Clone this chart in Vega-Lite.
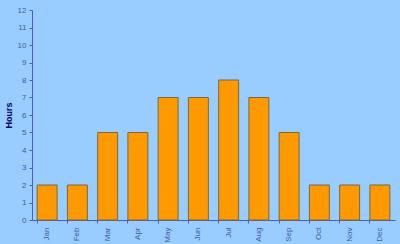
{
  "$schema": "https://vega.github.io/schema/vega-lite/v6.json",
  "width": 363,
  "height": 210,
  "autosize": {"type": "none"},
  "padding": {"left": 32, "top": 10, "right": 5, "bottom": 24},
  "background": "#99ccff",
  "config": {
    "view": {"stroke": null},
    "axis": {"grid": false, "domainColor": "#4a5cd0", "tickColor": "#4a5cd0", "labelColor": "#4658b0", "labelFont": "Liberation Sans", "labelFontSize": 8, "tickSize": 3, "labelOverlap": false}
  },
  "data": {
    "values": [
      {"month": "Jan", "hours": 2},
      {"month": "Feb", "hours": 2},
      {"month": "Mar", "hours": 5},
      {"month": "Apr", "hours": 5},
      {"month": "May", "hours": 7},
      {"month": "Jun", "hours": 7},
      {"month": "Jul", "hours": 8},
      {"month": "Aug", "hours": 7},
      {"month": "Sep", "hours": 5},
      {"month": "Oct", "hours": 2},
      {"month": "Nov", "hours": 2},
      {"month": "Dec", "hours": 2}
    ]
  },
  "mark": {"type": "bar", "color": "#ff9900", "stroke": "#7a6a3a", "strokeWidth": 1},
  "encoding": {
    "x": {
      "field": "month", "type": "nominal", "sort": null,
      "scale": {"paddingInner": 0.34, "paddingOuter": 0.17},
      "axis": {"title": null, "labelAngle": -90, "bandPosition": 0, "labelAlign": "right", "labelBaseline": "middle", "labelPadding": 4}
    },
    "y": {
      "field": "hours", "type": "quantitative",
      "scale": {"domain": [0, 12], "nice": false},
      "axis": {"title": "Hours", "titleColor": "#000066", "titleFont": "Liberation Sans", "titleFontSize": 9, "titleFontWeight": "bold", "titlePadding": 4, "values": [0,1,2,3,4,5,6,7,8,9,10,11,12], "labelPadding": 3}
    }
  }
}
